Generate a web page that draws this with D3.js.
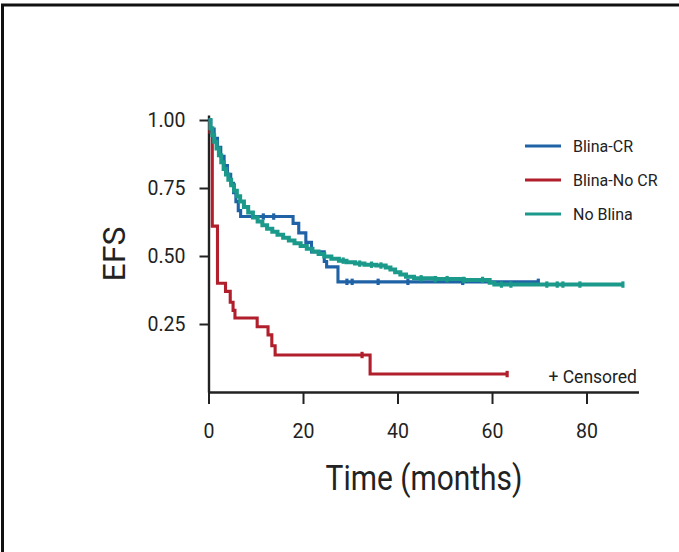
<!DOCTYPE html>
<html>
<head>
<meta charset="utf-8">
<script src="https://cdn.jsdelivr.net/npm/d3@7"></script>
<style>
  html, body { margin: 0; padding: 0; background: #fff; }
  svg { display: block; }
  text { font-family: Roboto, "Liberation Sans", sans-serif; fill: #222; }
</style>
</head>
<body>
<svg id="chart" width="679" height="552"></svg>
<script>
// Kaplan-Meier event-free survival by group: step times (months) and survival after each step
const seriesNames = ["Blina-CR", "Blina-No CR", "No Blina"];
const seriesColors = ["#1f62a6", "#b01f2b", "#1b9a8b"];

const crTimes = [0, 0.5, 1.2, 1.9, 2.6, 3.3, 4.0, 4.7, 5.3, 5.8, 6.3, 6.8, 17.9, 19.1, 20.6, 21.8, 24.5, 25.0, 27.4];
const crSurv  = [1.0, 0.967, 0.933, 0.90, 0.867, 0.833, 0.80, 0.767, 0.733, 0.70, 0.667, 0.645, 0.62, 0.585, 0.55, 0.515, 0.48, 0.46, 0.405];
const crCensored = [11.6, 13.8, 29.3, 30.4, 35.9, 42.2, 53.8];
const crEnd = 69.8;

const noCrTimes = [0, 0.3, 0.8, 1.9, 3.6, 4.6, 5.2, 5.6, 10.3, 12.6, 13.4, 14.1, 34.2];
const noCrSurv  = [1.0, 0.955, 0.61, 0.40, 0.37, 0.33, 0.30, 0.272, 0.24, 0.21, 0.17, 0.136, 0.066];
const noCrCensored = [32.5];
const noCrEnd = 63.2;

const noBlinaTimes = [0, 0.4, 0.8, 1.2, 1.7, 2.2, 2.7, 3.2, 3.7, 4.2, 4.8, 5.4, 6.0, 6.7, 7.5, 8.4, 9.4, 10.4, 11.4, 12.4, 13.5, 14.6, 15.8, 17.0, 18.2, 19.5, 20.8, 22.0, 23.3, 24.5, 26.0, 27.6, 29.2, 31.0, 33.0, 35.5, 37.5, 38.5, 39.5, 40.6, 41.8, 43.5, 48.0, 54.0, 59.5, 60.5];
const noBlinaSurv  = [1.0, 0.97, 0.945, 0.92, 0.895, 0.87, 0.845, 0.82, 0.80, 0.78, 0.76, 0.74, 0.72, 0.70, 0.68, 0.66, 0.642, 0.627, 0.613, 0.60, 0.589, 0.578, 0.567, 0.557, 0.547, 0.537, 0.527, 0.517, 0.507, 0.498, 0.49, 0.483, 0.477, 0.472, 0.468, 0.465, 0.458, 0.45, 0.44, 0.432, 0.424, 0.418, 0.415, 0.412, 0.402, 0.395];
const noBlinaCensored = [28.5, 32.0, 34.5, 36.5, 45.0, 48.0, 50.5, 54.0, 58.0, 62.0, 64.0, 71.6, 73.8, 75.0, 78.6];
const noBlinaEnd = 87.7;

const xTicks = [0, 20, 40, 60, 80];
const yTicks = [0.25, 0.50, 0.75, 1.00];

const series = [
  { name: seriesNames[0], color: seriesColors[0], times: crTimes, surv: crSurv, censored: crCensored, end: crEnd },
  { name: seriesNames[1], color: seriesColors[1], times: noCrTimes, surv: noCrSurv, censored: noCrCensored, end: noCrEnd },
  { name: seriesNames[2], color: seriesColors[2], times: noBlinaTimes, surv: noBlinaSurv, censored: noBlinaCensored, end: noBlinaEnd }
];

const svg = d3.select("#chart");

// outer frame (top and left edges)
svg.append("path")
  .attr("d", "M2.5,552 V5 H679")
  .attr("fill", "none")
  .attr("stroke", "#111")
  .attr("stroke-width", 3);

const x = d3.scaleLinear().domain([0, 91]).range([208.5, 638.5]);
const y = d3.scaleLinear().domain([0, 1.0184]).range([392, 115]);

// axes
const xAxis = d3.axisBottom(x).tickValues(xTicks).tickSize(12).tickSizeOuter(0).tickPadding(20)
  .tickFormat(d3.format("d"));
const gx = svg.append("g").attr("transform", "translate(0,392)").call(xAxis);
gx.select(".domain").attr("stroke", "#222").attr("stroke-width", 2.4);
gx.selectAll(".tick line").attr("stroke", "#222").attr("stroke-width", 2);
gx.selectAll(".tick text").attr("font-size", 19.5).attr("fill", "#222");

const yAxis = d3.axisLeft(y).tickValues(yTicks).tickSize(9).tickSizeOuter(0).tickPadding(14)
  .tickFormat(d3.format(".2f"));
const gy = svg.append("g").attr("transform", "translate(208.5,0)").call(yAxis);
gy.select(".domain").attr("stroke", "#222").attr("stroke-width", 2.4);
gy.selectAll(".tick line").attr("stroke", "#222").attr("stroke-width", 2);
gy.selectAll(".tick text").attr("font-size", 19.5).attr("fill", "#222");

// axis titles
svg.append("text")
  .attr("transform", "translate(424,490) scale(0.855,1)")
  .attr("text-anchor", "middle")
  .attr("font-size", 35)
  .text("Time (months)");

svg.append("text")
  .attr("transform", "translate(125,254) rotate(-90)")
  .attr("text-anchor", "middle")
  .attr("font-size", 32)
  .text("EFS");

// survival step curves
const line = d3.line().x(d => x(d[0])).y(d => y(d[1])).curve(d3.curveStepAfter);

function survAt(s, t) {
  let v = s.surv[0];
  for (let i = 0; i < s.times.length; i++) if (s.times[i] <= t) v = s.surv[i];
  return v;
}

const drawOrder = [1, 0, 2];
drawOrder.forEach(i => {
  const s = series[i];
  const pts = s.times.map((t, k) => [t, s.surv[k]]);
  pts.push([s.end, s.surv[s.surv.length - 1]]);
  svg.append("path")
    .attr("d", line(pts))
    .attr("fill", "none")
    .attr("stroke", s.color)
    .attr("stroke-width", i === 2 ? 4 : 3.1)
    .attr("stroke-linejoin", "miter");
  const marks = s.censored.concat([s.end]);
  svg.append("g").selectAll("line").data(marks).join("line")
    .attr("x1", t => x(t)).attr("x2", t => x(t))
    .attr("y1", t => y(survAt(s, t)) - 3.2).attr("y2", t => y(survAt(s, t)) + 3.2)
    .attr("stroke", s.color).attr("stroke-width", 3.2);
});

// legend
const legend = svg.append("g");
series.forEach((s, i) => {
  const ly = 146 + i * 34;
  legend.append("line")
    .attr("x1", 525).attr("x2", 561).attr("y1", ly).attr("y2", ly)
    .attr("stroke", s.color).attr("stroke-width", 3);
  legend.append("text")
    .attr("x", 573).attr("y", ly + 5.5)
    .attr("font-size", 16)
    .text(s.name);
});

svg.append("text")
  .attr("x", 637).attr("y", 383)
  .attr("text-anchor", "end")
  .attr("font-size", 17.5)
  .text("+ Censored");
</script>
</body>
</html>
